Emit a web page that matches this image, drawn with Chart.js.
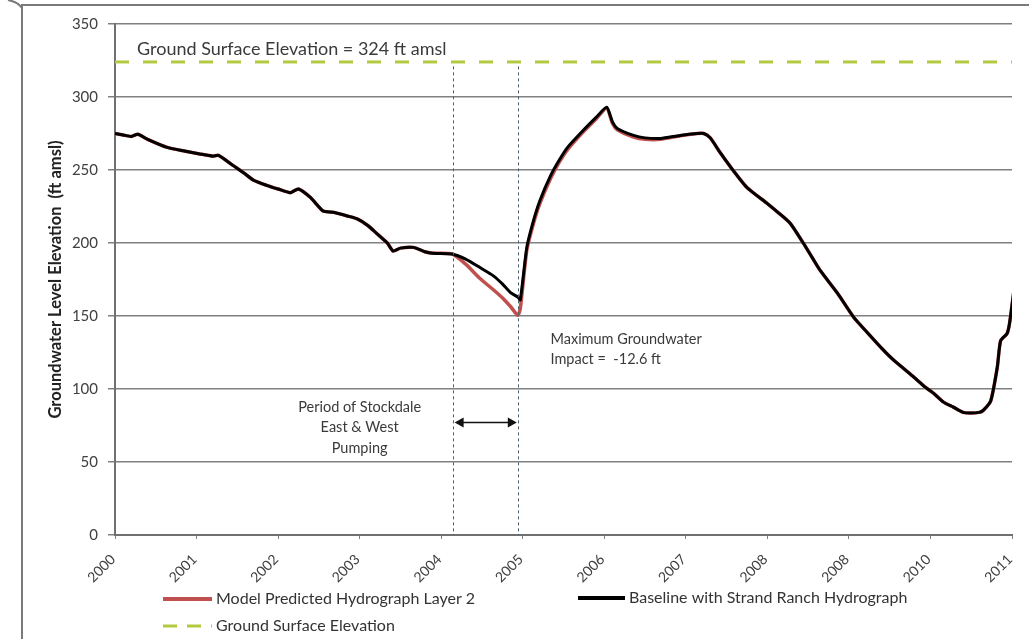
<!DOCTYPE html>
<html>
<head>
<meta charset="utf-8">
<script src="https://cdn.jsdelivr.net/npm/chart.js@4"></script>
<style>
  html, body { margin: 0; padding: 0; background: #fff; }
  #wrap { width: 1029px; height: 639px; position: relative; }
</style>
</head>
<body>
<div id="wrap"><canvas id="hydroChart"></canvas></div>
<script>
// decimal years of the traced points
const years = [
  2000.00, 2000.10, 2000.20, 2000.28, 2000.40, 2000.64, 2000.85, 2001.04, 2001.20, 2001.27,
  2001.45, 2001.58, 2001.70, 2001.86, 2002.00, 2002.15, 2002.25, 2002.40, 2002.55, 2002.68,
  2002.85, 2002.97, 2003.10, 2003.21, 2003.34, 2003.41, 2003.50, 2003.66, 2003.80, 2003.90,
  2004.13, 2004.30, 2004.48, 2004.64, 2004.75, 2004.85, 2004.94, 2004.97, 2005.05, 2005.13,
  2005.21, 2005.34, 2005.45, 2005.55, 2005.74, 2005.90, 2006.03, 2006.10, 2006.16, 2006.36,
  2006.50, 2006.69, 2006.93, 2007.14, 2007.22, 2007.30, 2007.42, 2007.55, 2007.75, 2008.00,
  2008.14, 2008.28, 2008.44, 2008.55, 2008.65, 2008.86, 2009.06, 2009.22, 2009.40, 2009.55,
  2009.80, 2009.92, 2010.04, 2010.16, 2010.28, 2010.40, 2010.49, 2010.60, 2010.65, 2010.74,
  2010.82, 2010.86, 2010.94, 2010.97, 2011.02
];

const baseline = [
  275, 274, 273, 274.5, 271, 265.5, 263, 261, 259.5, 260,
  253, 248, 243, 239.5, 237, 234.5, 237, 231, 222, 221,
  218.5, 216.5, 212, 206.5, 200, 194.5, 196.5, 197, 194, 193,
  192.5, 189, 183, 177.5, 172, 166, 163, 161, 197, 215,
  229, 246, 257, 265.5, 277, 286, 293, 283, 278.5, 273.7,
  272, 271.6, 273.7, 275, 275, 272, 262, 252, 238, 227,
  220.5, 213.5, 200, 190, 181, 165.6, 149, 139, 128, 119.7,
  108, 102, 97, 91, 87.6, 84, 83.5, 84, 85.5, 92,
  115, 133, 138, 145, 166
];

const modelLayer2 = [
  275, 274, 273, 274.5, 271, 265.5, 263, 261, 259.5, 260,
  253, 248, 243, 239.5, 237, 234.5, 237, 231, 222, 221,
  218.5, 216.5, 212, 206.5, 200, 194.5, 196.5, 197, 194, 193,
  192.5, 185.5, 175.5, 168, 162.5, 156.5, 150.5, 155, 195, 213,
  227, 244, 255.5, 264, 276, 285, 292.5, 282, 277.5, 272.5,
  271, 271, 273.5, 275, 275, 272, 262, 252, 238, 227,
  220.5, 213.5, 200, 190, 181, 165.6, 149, 139, 128, 119.7,
  108, 102, 97, 91, 87.6, 84, 83.5, 84, 85.5, 92,
  115, 133, 138, 145, 166
];

const groundYears = [2000, 2011];
const groundSurface = [324, 324];

const xTickLabels = ['2000', '2001', '2002', '2003', '2004', '2005', '2006', '2007', '2008', '2008', '2010', '2011'];
const yTicks = [0, 50, 100, 150, 200, 250, 300, 350];

const pumpStart = 2004.14;
const pumpEnd = 2004.94;

const FONT = 'Lato, "Open Sans", sans-serif';

const toXY = (xs, ys) => xs.map((x, i) => ({ x: x, y: ys[i] }));

const overlay = {
    id: 'overlay',
    afterDraw(chart) {
        const ctx = chart.ctx;
        const xs = chart.scales.x;
        const ys = chart.scales.y;
        const area = chart.chartArea;
        ctx.save();

        // outer frame
        ctx.strokeStyle = '#7a7a7a';
        ctx.lineWidth = 2;
        ctx.beginPath();
        ctx.moveTo(1029, 5);
        ctx.lineTo(22, 5);
        ctx.lineTo(22, 639);
        ctx.stroke();
        ctx.beginPath();
        ctx.moveTo(8, 0);
        ctx.quadraticCurveTo(18, 2, 22, 8);
        ctx.stroke();

        // rotated year labels under the x ticks
        ctx.font = '14px ' + FONT;
        ctx.fillStyle = '#404040';
        ctx.textAlign = 'right';
        ctx.textBaseline = 'middle';
        xs.ticks.forEach((t, i) => {
            const px = xs.getPixelForValue(t.value);
            ctx.save();
            ctx.translate(px - 2, area.bottom + 22);
            ctx.rotate(-Math.PI / 4);
            ctx.fillText(xTickLabels[i], 0, 0);
            ctx.restore();
        });

        // pumping period dashed verticals
        ctx.strokeStyle = '#4f5f70';
        ctx.lineWidth = 1;
        ctx.setLineDash([3, 3]);
        [pumpStart, pumpEnd].forEach(v => {
            const px = Math.round(xs.getPixelForValue(v)) + 0.5;
            ctx.beginPath();
            ctx.moveTo(px, ys.getPixelForValue(321));
            ctx.lineTo(px, area.bottom);
            ctx.stroke();
        });
        ctx.setLineDash([]);

        // double arrow
        const ay = ys.getPixelForValue(77);
        const ax1 = xs.getPixelForValue(pumpStart) + 2;
        const ax2 = xs.getPixelForValue(pumpEnd) - 1;
        ctx.strokeStyle = '#111';
        ctx.fillStyle = '#111';
        ctx.lineWidth = 1.5;
        ctx.beginPath();
        ctx.moveTo(ax1 + 6, ay);
        ctx.lineTo(ax2 - 6, ay);
        ctx.stroke();
        ctx.beginPath();
        ctx.moveTo(ax1, ay); ctx.lineTo(ax1 + 9, ay - 5); ctx.lineTo(ax1 + 9, ay + 5); ctx.closePath();
        ctx.fill();
        ctx.beginPath();
        ctx.moveTo(ax2, ay); ctx.lineTo(ax2 - 9, ay - 5); ctx.lineTo(ax2 - 9, ay + 5); ctx.closePath();
        ctx.fill();

        // annotations
        ctx.fillStyle = '#3a3a3a';
        ctx.textBaseline = 'middle';
        ctx.font = '18px ' + FONT;
        ctx.textAlign = 'left';
        ctx.fillText('Ground Surface Elevation = 324 ft amsl', xs.getPixelForValue(2000.27), ys.getPixelForValue(332.5));

        ctx.font = '14.5px ' + FONT;
        ctx.textAlign = 'center';
        const cx = xs.getPixelForValue(2003.0);
        ctx.fillText('Period of Stockdale', cx, ys.getPixelForValue(87.5));
        ctx.fillText('East & West', cx, ys.getPixelForValue(73.5));
        ctx.fillText('Pumping', cx, ys.getPixelForValue(59.5));

        ctx.textAlign = 'left';
        const mx = xs.getPixelForValue(2005.34);
        ctx.fillText('Maximum Groundwater', mx, ys.getPixelForValue(134));
        ctx.fillText('Impact =  -12.6 ft', mx, ys.getPixelForValue(120.5));

        // legend
        ctx.font = '16px ' + FONT;
        ctx.fillStyle = '#333';
        ctx.lineWidth = 4;
        ctx.strokeStyle = '#c0504d';
        ctx.beginPath(); ctx.moveTo(163, 599); ctx.lineTo(212, 599); ctx.stroke();
        ctx.fillText('Model Predicted Hydrograph Layer 2', 216, 599);
        ctx.strokeStyle = '#000';
        ctx.beginPath(); ctx.moveTo(578, 598); ctx.lineTo(625, 598); ctx.stroke();
        ctx.fillText('Baseline with Strand Ranch Hydrograph', 629, 598);
        ctx.strokeStyle = '#b3c93f';
        ctx.lineWidth = 3;
        ctx.setLineDash([14, 10]);
        ctx.beginPath(); ctx.moveTo(163, 626); ctx.lineTo(212, 626); ctx.stroke();
        ctx.setLineDash([]);
        ctx.fillText('Ground Surface Elevation', 216, 626);

        ctx.restore();
    }
};

new Chart(document.getElementById('hydroChart'), {
    type: 'line',
    data: {
        datasets: [
            {
                label: 'Baseline with Strand Ranch Hydrograph',
                data: toXY(years, baseline),
                borderColor: '#000',
                borderWidth: 3,
                pointRadius: 0,
                tension: 0.2
            },
            {
                label: 'Model Predicted Hydrograph Layer 2',
                data: toXY(years, modelLayer2),
                borderColor: '#c0504d',
                borderWidth: 3.5,
                pointRadius: 0,
                tension: 0.2
            },
            {
                label: 'Ground Surface Elevation',
                data: toXY(groundYears, groundSurface),
                borderColor: '#b3c93f',
                borderWidth: 3,
                borderDash: [14, 14],
                pointRadius: 0
            }
        ]
    },
    options: {
        responsive: true,
        maintainAspectRatio: false,
        animation: false,
        layout: { padding: { left: 44, top: 24, right: 17, bottom: 0 } },
        plugins: {
            legend: { display: false },
            tooltip: { enabled: false }
        },
        scales: {
            x: {
                type: 'linear',
                min: 2000,
                max: 2011,
                afterFit: (scale) => {
                    scale.height = 104;
                    scale.paddingLeft = 0;
                    scale.paddingRight = 0;
                },
                afterBuildTicks: (scale) => {
                    scale.ticks = xTickLabels.map((_, i) => ({ value: 2000 + i }));
                },
                ticks: { display: false },
                grid: { drawOnChartArea: false, drawTicks: true, tickLength: 4, color: '#808080' },
                border: { color: '#707070', width: 2 }
            },
            y: {
                min: 0,
                max: 350,
                afterFit: (scale) => { scale.width = 71; },
                afterBuildTicks: (scale) => {
                    scale.ticks = yTicks.map(v => ({ value: v }));
                },
                ticks: {
                    padding: 10,
                    color: '#404040',
                    font: { family: FONT, size: 15 }
                },
                title: {
                    display: true,
                    text: 'Groundwater Level Elevation  (ft amsl)',
                    color: '#222',
                    font: { family: FONT, size: 16.5, weight: 'bold' },
                    padding: { top: 2, bottom: 0 }
                },
                grid: { color: '#808080', lineWidth: 1.5, tickLength: 7 },
                border: { color: '#707070', width: 2 }
            }
        }
    },
    plugins: [overlay]
});
</script>
</body>
</html>
